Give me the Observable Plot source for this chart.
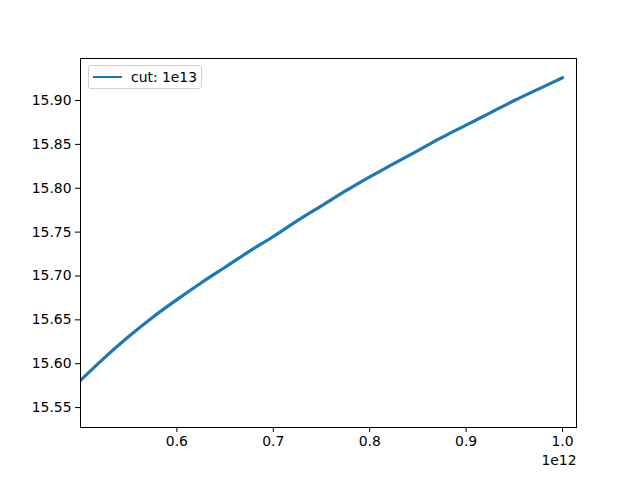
<!DOCTYPE html>
<html>
<head>
<meta charset="utf-8">
<script src="https://cdn.jsdelivr.net/npm/d3@7"></script>
<script src="https://cdn.jsdelivr.net/npm/@observablehq/plot@0.6"></script>
<style>
  html, body { margin: 0; padding: 0; background: #fff; }
  #wrap { position: relative; width: 640px; height: 480px; font-family: "DejaVu Sans", sans-serif; }
  #legend { position: absolute; left: 88px; top: 65px; width: 114px; height: 24px;
            border: 1px solid #d0d0d0; border-radius: 3px; background: rgba(255,255,255,0.8);
            box-sizing: border-box; font-size: 13.9px; color: #000; }
  #legend svg { position: absolute; left: 3px; top: 9px; }
  #legend span { position: absolute; left: 42px; top: 3px; white-space: nowrap; }
</style>
</head>
<body>
<div id="wrap"></div>
<script>
// values
const xs = [0.500e12, 0.525e12, 0.550e12, 0.575e12, 0.600e12, 0.625e12, 0.650e12, 0.675e12,
            0.700e12, 0.725e12, 0.750e12, 0.775e12, 0.800e12, 0.825e12, 0.850e12, 0.875e12,
            0.900e12, 0.925e12, 0.950e12, 0.975e12, 1.000e12];
const ys = [15.581, 15.607, 15.631, 15.653, 15.673, 15.692, 15.710, 15.728,
            15.745, 15.763, 15.780, 15.797, 15.813, 15.828, 15.843, 15.858,
            15.872, 15.886, 15.900, 15.913, 15.926];
const seriesLabel = "cut: 1e13";
const xTicks = [0.6e12, 0.7e12, 0.8e12, 0.9e12, 1.0e12];
const yTicks = [15.55, 15.60, 15.65, 15.70, 15.75, 15.80, 15.85, 15.90];
const xOffsetLabel = "1e12";

const data = xs.map((x, i) => ({x, y: ys[i]}));
const color = "#1f77b4";

const chart = Plot.plot({
  width: 640,
  height: 480,
  marginLeft: 80,
  marginRight: 64,
  marginTop: 58,
  marginBottom: 53,
  style: {fontFamily: "DejaVu Sans, sans-serif", fontSize: "13.9px", color: "#000", background: "#fff"},
  x: {domain: [0.5e12, 1.0145e12]},
  y: {domain: [15.5273, 15.9479]},
  marks: [
    Plot.line(data, {x: "x", y: "y", stroke: color, strokeWidth: 3.2, curve: "monotone-x", clip: true}),
    Plot.frame({stroke: "#000", strokeWidth: 1}),
    Plot.axisX({ticks: xTicks, tickFormat: d => (d / 1e12).toFixed(1), tickSize: 5, tickPadding: 4, label: null, fontSize: 13.9}),
    Plot.axisY({ticks: yTicks, tickFormat: d => d.toFixed(2), tickSize: 5, tickPadding: 4, label: null, fontSize: 13.9}),
    Plot.text([xOffsetLabel], {frameAnchor: "bottom-right", text: d => d, dy: 37, textAnchor: "end", fontSize: 13.9})
  ]
});

const wrap = document.getElementById("wrap");
wrap.appendChild(chart);
const legend = document.createElement("div");
legend.id = "legend";
legend.innerHTML = `<svg width="32" height="4"><line x1="1" y1="2" x2="30" y2="2" stroke="${color}" stroke-width="2"/></svg><span></span>`;
legend.querySelector("span").textContent = seriesLabel;
wrap.appendChild(legend);
</script>
</body>
</html>
